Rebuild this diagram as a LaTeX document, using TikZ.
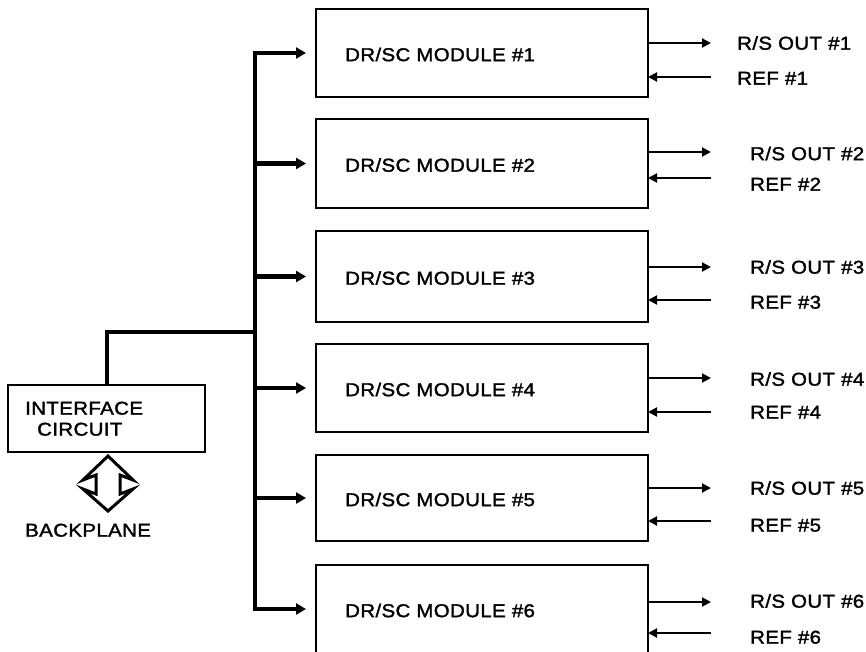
\documentclass[tikz,border=0pt]{standalone}
\usepackage{fontspec}
\newfontfamily\labfont[LetterSpace=2,FakeStretch=1.1,FakeBold=1.6]{Liberation Sans}
\usetikzlibrary{arrows.meta}
\begin{document}
\begin{tikzpicture}[x=1pt,y=-1pt,
  modbox/.style={draw, line width=2.5pt, minimum width=332pt, inner sep=0pt, outer sep=0pt},
  busline/.style={line width=4.5pt, line join=miter},
  sig/.style={line width=2pt},
  lbl/.style={font=\labfont\fontsize{18.6}{20}\selectfont, inner sep=0pt, text height=13.3pt, text depth=0pt, anchor=west},
  bigtip/.tip={Triangle[length=10pt,width=11pt]},
  smalltip/.tip={Triangle[length=9pt,width=9pt]}]
\useasboundingbox (0,0) rectangle (866,652);
\fill[white] (0,0) rectangle (866,652);
% modules
\foreach \i/\c/\h/\lx/\oy/\ry/\oly/\rly in {
  1/53/88/737/43/77/43/78,
  2/163.5/89/750/152/178/153.5/184,
  3/276.5/91/750/267/300/267/302,
  4/388/88/750/378/412/379/412,
  5/498/86/750/488/521/488/525,
  6/609/88/750/602/633/601/637}{
  \node[modbox, minimum height=\h pt] (m\i) at (482,\c) {};
  \node[lbl] (t\i) at (345,\c+1.5) {DR/SC MODULE \#\i};
  \coordinate (o\i) at (711,\oy);
  \coordinate (r\i) at (711,\ry);
  \draw[sig,-smalltip] (m\i.east |- o\i) -- (o\i);
  \draw[sig,-smalltip] (r\i) -- (m\i.east |- r\i);
  \node[lbl] (lo\i) at (\lx,\oly) {R/S OUT \#\i};
  \node[lbl] (lr\i) at (\lx,\rly) {REF \#\i};
}
% bus
\coordinate (b1) at (255,53);
\coordinate (b6) at (255,609);
\coordinate (bj) at (255,332);
\draw[busline, bigtip-bigtip, shorten <=10pt, shorten >=10pt] (m6.west) -- (b6) -- (b1) -- (m1.west);
\foreach \i in {2,3,4,5}{
  \draw[busline, -bigtip, shorten >=10pt] (b1 |- m\i.west) -- (m\i.west);
}
% interface
\node[draw, line width=2.5pt, minimum width=197pt, minimum height=67pt, inner sep=0pt, outer sep=0pt] (ifc) at (106.5,418.5) {};
\node[lbl] (ti1) at (25,408) {INTERFACE};
\node[lbl] (ti2) at (37,429) {CIRCUIT};
\draw[line width=4pt, line join=miter] (ifc.north) |- (bj);
% backplane double arrow
\draw[line width=3pt, line join=miter] (108,456) -- (133,480) -- (120,475) -- (120,494) -- (133,489) -- (108,511) -- (83,489) -- (96,494) -- (96,475) -- (83,480) -- cycle;
\node[lbl] (tb) at (25,530) {BACKPLANE};
\end{tikzpicture}
\end{document}
